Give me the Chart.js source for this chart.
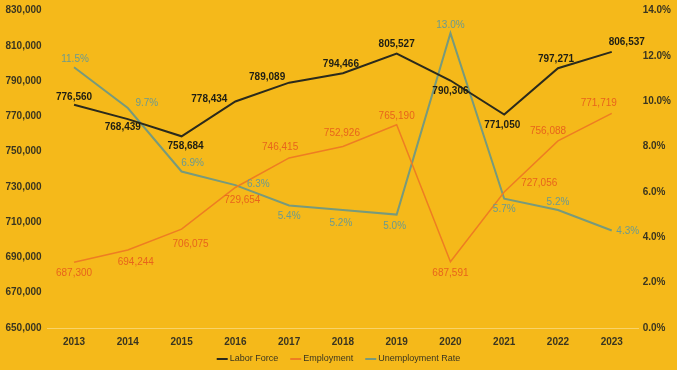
<!DOCTYPE html>
<html>
<head>
<meta charset="utf-8">
<script src="https://cdn.jsdelivr.net/npm/chart.js@4.4.0/dist/chart.umd.min.js"></script>
<style>
  html, body { margin: 0; padding: 0; background: #F5B91A; overflow: hidden; }
  #wrap { width: 677px; height: 370px; overflow: hidden; }
  #myChart { display: block; margin-top: -1px; }
</style>
</head>
<body>
<div id="wrap"><canvas id="myChart" width="677" height="374"></canvas></div>
<script>
const years = ['2013', '2014', '2015', '2016', '2017', '2018', '2019', '2020', '2021', '2022', '2023'];
const laborForce = [776560, 768439, 758684, 778434, 789089, 794466, 805527, 790306, 771050, 797271, 806537];
const employment = [687300, 694244, 706075, 729654, 746415, 752926, 765190, 687591, 727056, 756088, 771719];
const unemploymentRate = [0.115, 0.097, 0.069, 0.063, 0.054, 0.052, 0.050, 0.130, 0.057, 0.052, 0.043];

const leftTicks = { min: 650000, max: 830000, step: 20000 };
const rightTicks = { min: 0, max: 0.14, step: 0.02 };

// where each data label sits relative to its point (dx, dy in px)
const labelOffsets = [
  [[0,-8],[-5,8],[4,10],[-26,-2],[-22,-5],[-2,-9],[0,-9],[0,11],[-2,11],[-2,-9],[15,-10]],
  [[0,11],[8,12],[9,15],[7,13],[-9,-11],[-1,-13],[0,-9],[0,12],[35,-9],[-10,-10],[-13,-10]],
  [[1,-8],[19,-5],[11,-8],[23,-1],[0,11],[-2,13],[-2,12],[0,-8],[0,11],[0,-8],[16,1]]
];

const FONT = "'Liberation Sans', Arial, sans-serif";
const BG = '#F5B91A';
const AXIS_TEXT = '#3A3520';

function fmtNum(v) { return v.toLocaleString('en-US'); }
function fmtPct(v) { return (v * 100).toFixed(1) + '%'; }

const bgPlugin = {
  id: 'bg',
  beforeDraw(chart) {
    const ctx = chart.ctx;
    ctx.save();
    ctx.fillStyle = BG;
    ctx.fillRect(0, 0, chart.width, chart.height);
    ctx.restore();
  }
};

// small legend strip at the bottom, centred
const legendPlugin = {
  id: 'bottomLegend',
  afterDraw(chart) {
    const ctx = chart.ctx;
    const y = chart.chartArea.bottom + 31;
    const lineW = 11, gap = 2, itemGap = 12;
    ctx.save();
    ctx.font = '9px ' + FONT;
    ctx.textBaseline = 'middle';
    const items = chart.data.datasets.map(ds => ({
      text: ds.label, color: ds.borderColor, w: ctx.measureText(ds.label).width
    }));
    let total = 0;
    items.forEach((it, i) => { total += lineW + gap + it.w + (i ? itemGap : 0); });
    let x = chart.width / 2 - total / 2;
    items.forEach(it => {
      ctx.strokeStyle = it.color;
      ctx.lineWidth = 2;
      ctx.beginPath();
      ctx.moveTo(x, y);
      ctx.lineTo(x + lineW, y);
      ctx.stroke();
      x += lineW + gap;
      ctx.fillStyle = AXIS_TEXT;
      ctx.fillText(it.text, x, y);
      x += it.w + itemGap;
    });
    ctx.restore();
  }
};

const labelPlugin = {
  id: 'pointLabels',
  afterDatasetsDraw(chart) {
    const ctx = chart.ctx;
    ctx.save();
    ctx.textAlign = 'center';
    ctx.textBaseline = 'middle';
    chart.data.datasets.forEach((ds, i) => {
      const meta = chart.getDatasetMeta(i);
      ctx.fillStyle = ds.labelColor;
      ctx.font = ds.labelFont;
      meta.data.forEach((pt, j) => {
        const off = labelOffsets[i][j];
        ctx.fillText(ds.fmt(ds.data[j]), pt.x + off[0], pt.y + off[1]);
      });
    });
    ctx.restore();
  }
};

const data = {
  labels: years,
  datasets: [{
    label: 'Labor Force',
    data: laborForce,
    borderColor: '#2B2A1C',
    borderWidth: 2,
    yAxisID: 'y',
    labelColor: '#1E1E14',
    labelFont: 'bold 10px ' + FONT,
    fmt: fmtNum
  }, {
    label: 'Employment',
    data: employment,
    borderColor: '#EE7D22',
    borderWidth: 1.5,
    yAxisID: 'y',
    labelColor: '#E8641C',
    labelFont: '10px ' + FONT,
    fmt: fmtNum
  }, {
    label: 'Unemployment Rate',
    data: unemploymentRate,
    borderColor: '#779A7C',
    borderWidth: 2,
    yAxisID: 'y1',
    labelColor: '#6B9A90',
    labelFont: '10px ' + FONT,
    fmt: fmtPct
  }]
};

const config = {
  type: 'line',
  data: data,
  options: {
    responsive: false,
    animation: false,
    elements: { point: { radius: 0 }, line: { tension: 0 } },
    layout: { padding: { left: 0, right: 2, top: -4, bottom: 17 } },
    plugins: {
      tooltip: { enabled: false },
      legend: { display: false }
    },
    scales: {
      x: {
        offset: true,
        grid: { display: false, drawTicks: false },
        border: { display: true, color: '#F8D36A', width: 1 },
        ticks: { color: AXIS_TEXT, padding: 8, font: { family: FONT, size: 10, weight: 'bold' } }
      },
      y: {
        position: 'left',
        min: leftTicks.min,
        max: leftTicks.max,
        grid: { display: false, drawTicks: false },
        border: { display: false },
        ticks: {
          stepSize: leftTicks.step,
          padding: 5.5,
          color: AXIS_TEXT,
          font: { family: FONT, size: 10, weight: 'bold' },
          callback: v => fmtNum(v)
        }
      },
      y1: {
        position: 'right',
        min: rightTicks.min,
        max: rightTicks.max,
        grid: { display: false, drawTicks: false },
        border: { display: false },
        ticks: {
          stepSize: rightTicks.step,
          padding: 4,
          color: AXIS_TEXT,
          font: { family: FONT, size: 10, weight: 'bold' },
          callback: v => fmtPct(v)
        }
      }
    }
  },
  plugins: [bgPlugin, labelPlugin, legendPlugin]
};

new Chart(document.getElementById('myChart').getContext('2d'), config);
</script>
</body>
</html>
